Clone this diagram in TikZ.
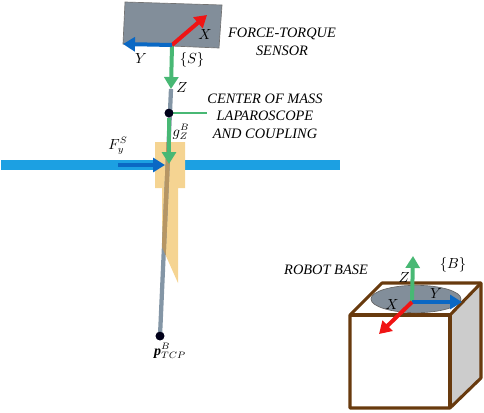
\documentclass[tikz,border=0pt]{standalone}
\usepackage{fontspec}
\setmainfont{Liberation Serif}
\usetikzlibrary{arrows.meta,shapes.geometric}
\definecolor{grn}{RGB}{72,184,116}
\definecolor{rd}{RGB}{240,20,20}
\definecolor{blu}{RGB}{10,104,196}
\definecolor{bar}{RGB}{28,160,226}
\definecolor{org}{RGB}{245,212,146}
\definecolor{tan}{RGB}{182,150,100}
\definecolor{shaft}{RGB}{132,150,166}
\definecolor{plate}{RGB}{130,142,154}
\definecolor{brn}{RGB}{104,58,14}
\tikzset{
  vec/.style={line width=3pt,-{Triangle[length=9pt,width=10.5pt]}},
  lab/.style={font=\fontsize{10.8pt}{12pt}\selectfont\itshape,inner sep=0pt,align=center},
  sym/.style={font=\fontsize{10.5pt}{12pt}\selectfont,inner sep=0pt},
  dot/.style={circle,fill=black!90!blue,inner sep=0pt,minimum size=6.5pt}
}
\begin{document}
\begin{tikzpicture}[x=0.75pt,y=-0.75pt]
\useasboundingbox (0,0) rectangle (484,412);
% bar
\fill[bar] (1,160) rectangle (340,170);
% sensor
\fill[plate,draw=black!55,line width=0.5pt] (125,2) -- (222,5) -- (219,48) -- (123,44) -- cycle;
\coordinate (S) at (172,45);
\coordinate (Sx) at (207,15);
\coordinate (Sy) at (123,44);
\coordinate (Sz) at (171,89);
\coordinate (tcpTop) at (171,89);
% orange
\fill[org] (155,142) -- (185,142) -- (185,188) -- (178,188) -- (178,283) -- (162,247) -- (162,188) -- (155,188) -- cycle;
% shaft
\node[dot] (tcp) at (160,336) {};
\node[dot] (com) at (169,113) {};
\draw[shaft,line width=3.2pt] (tcpTop) -- (tcp.center);
\begin{scope}
\clip (155,142) -- (185,142) -- (185,188) -- (178,188) -- (178,283) -- (162,247) -- (162,188) -- (155,188) -- cycle;
\draw[tan,line width=3.2pt] (tcpTop) -- (tcp.center);
\end{scope}
\node[dot] at (tcp) {};
% frame S
\draw[grn,vec] (S) -- (Sz);
\draw[rd,vec] (S) -- (Sx);
\draw[blu,vec] (S) -- (Sy);
% gravity
\coordinate (G) at (169,164);
\draw[grn,line width=0.8pt] (com.center) -- (207,113);
\draw[grn,vec] (com) -- (G);
\node[dot] at (com) {};
% force
\coordinate (F0) at (118,165);
\coordinate (F1) at (165,165);
\draw[blu,vec] (F0) -- (F1);
% box
\fill[black!20] (450,315) -- (481,283) -- (481,378) -- (450,408) -- cycle;
\draw[brn,line width=2.3pt,line join=round] (350,315) -- (382,283) -- (481,283) -- (481,378) -- (450,408) -- (350,408) -- cycle;
\draw[brn,line width=2.3pt,line join=round] (350,315) -- (450,315) -- (450,408);
\draw[brn,line width=2.3pt] (450,315) -- (481,283);
% ellipse
\node[ellipse,draw=black!60,fill=plate,line width=0.5pt,minimum width=67.5pt,minimum height=20.5pt,inner sep=0pt] (disc) at (416,299) {};
\coordinate (B) at (412,302);
\coordinate (Bz) at (413,256);
\coordinate (By) at (462,302);
\coordinate (Bx) at (379,334);
\draw[grn,vec] (B) -- (Bz);
\draw[blu,vec] (B) -- (By);
\draw[rd,vec] (B) -- (Bx);
% labels
\node[lab] (ft) at (282,42) {FORCE-TORQUE\\[1.6pt]SENSOR};
\node[lab] (cm) at (265,116) {CENTER OF MASS\\[1.2pt]LAPAROSCOPE\\[1.2pt]AND COUPLING};
\node[lab] (rb) at (326,270) {ROBOT BASE};
\node[sym] (sX) at (205,35) {$X$};
\node[sym] (sY) at (141,59) {$Y$};
\node[sym] (sZ) at (182,88) {$Z$};
\node[sym] (sS) at (192,60) {$\{S\}$};
\node[sym] (gz) at (181,132) {$g_Z^B$};
\node[sym] (Fy) at (118,146) {$F_y^S$};
\node[sym] (pt) at (170,351) {$\textbf{\textit{p}}_{TCP}^{B}$};
\node[sym] (bZ) at (404,277) {$Z$};
\node[sym] (bB) at (453,265) {$\{B\}$};
\node[sym] (bX) at (392,304) {$X$};
\node[sym] (bY) at (436,293) {$Y$};
\end{tikzpicture}
\end{document}
